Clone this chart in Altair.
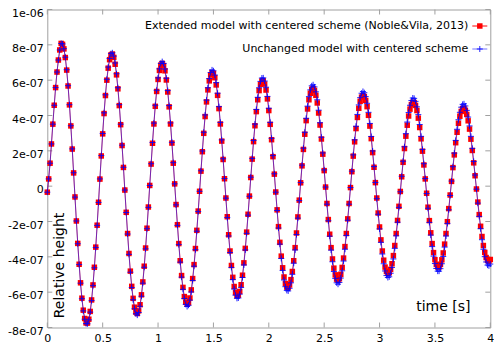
import altair as alt
import pandas as pd

# ---- data ----
t_start = 0.0
t_step = 0.0125          # sampling interval of both series (s)
value_unit = 1e-9        # the series below are given in units of 1e-9

extended_e9 = [
    -34, 41, 130, 239, 351, 458, 558, 646, 714, 771, 808,
    803, 777, 728, 657, 567, 460, 341, 210, 75, -61,
    -197, -324, -442, -547, -634, -702, -749, -774, -775, -753,
    -709, -644, -559, -459, -345, -221, -91, 40, 171, 296,
    411, 513, 600, 668, 716, 743, 748, 729, 690, 630,
    551, 456, 348, 230, 106, -22, -148, -268, -381, -481,
    -567, -635, -685, -713, -721, -706, -671, -615, -542, -453,
    -350, -238, -118, 4, 125, 243, 352, 452, 536, 604,
    655, 685, 695, 683, 653, 601, 533, 449, 352, 244,
    130, 13, -104, -218, -325, -422, -506, -573, -625, -656,
    -668, -660, -633, -587, -523, -444, -353, -250, -141, -29,
    85, 195, 299, 394, 477, 545, 596, 629, 643, 638,
    614, 573, 514, 439, 352, 255, 151, 42, -67, -173,
    -275, -367, -449, -516, -568, -602, -619, -617, -596, -558,
    -504, -434, -352, -260, -159, -56, 49, 153, 252, 342,
    422, 489, 541, 576, 595, 596, 578, 544, 494, 428,
    350, 263, 167, 68, -33, -134, -229, -318, -396, -462,
    -514, -551, -571, -574, -559, -529, -483, -422, -348, -265,
    -174, -79, 19, 115, 208, 294, 371, 437, 489, 526,
    548, 553, 542, 514, 471, 414, 346, 267, 181, 88,
    -5, -98, -189, -272, -348, -412, -464, -502, -526, -533,
    -524, -499, -460, -407, -342, -268, -185, -98, -8, 82,
    170, 251, 326, 389, 441, 480, 504, 513, 507, 485,
    450, 401, 340, 269, 190, 107, 20, -67, -152, -231,
    -304, -367, -419, -458, -483, -494, -490, -471, -439, -393,
    -336, -268, -194, -114, -30, 53, 135, 213, 283, 345,
    397, 436, 462, 475, 473, 457, 428, 385, 332, 268,
    198, 120, 41, -40, -119, -195, -264, -325, -376, -416,
    -443, -457, -457, -443, -417, -378, -328, -268, -201, -127,
    -50, 27, 105, 177, 246, 305, 356, 396, 423, 439,
    441, 429, 406, 370, 323, 266, 202, 132, 59, -16,
    -90, -161, -227, -285, -336, -375, -404, -420, -424, -415,
]

unchanged_e9 = [
    -34, 41, 130, 239, 351, 458, 558, 646, 714, 771, 808,
    805, 778, 730, 659, 569, 461, 342, 211, 76, -62,
    -197, -326, -444, -549, -637, -706, -753, -778, -779, -757,
    -713, -648, -563, -462, -347, -222, -92, 41, 173, 298,
    415, 517, 605, 674, 723, 750, 755, 736, 697, 636,
    557, 461, 351, 232, 107, -22, -149, -271, -386, -487,
    -574, -643, -694, -722, -730, -715, -680, -623, -549, -459,
    -355, -241, -120, 4, 127, 247, 357, 458, 543, 613,
    664, 695, 705, 694, 663, 611, 541, 456, 358, 248,
    133, 13, -106, -222, -331, -430, -515, -584, -636, -669,
    -681, -674, -645, -599, -534, -453, -360, -255, -144, -29,
    87, 199, 305, 403, 487, 557, 609, 643, 658, 653,
    629, 586, 526, 450, 361, 262, 155, 43, -68, -178,
    -282, -376, -460, -529, -582, -617, -635, -633, -611, -573,
    -517, -446, -361, -267, -164, -57, 51, 157, 259, 351,
    434, 503, 557, 593, 612, 613, 595, 560, 508, 441,
    361, 271, 173, 70, -34, -138, -237, -328, -409, -477,
    -531, -569, -590, -593, -578, -547, -499, -436, -361, -274,
    -181, -82, 20, 119, 215, 305, 384, 453, 507, 545,
    568, 574, 562, 534, 489, 430, 359, 277, 188, 92,
    -5, -102, -196, -283, -362, -428, -483, -522, -547, -555,
    -545, -520, -479, -424, -357, -279, -193, -102, -8, 85,
    177, 262, 339, 406, 460, 501, 526, 536, 529, 507,
    469, 418, 355, 281, 199, 111, 21, -71, -159, -242,
    -318, -384, -439, -480, -506, -517, -513, -493, -460, -412,
    -352, -281, -204, -120, -32, 56, 141, 223, 297, 363,
    417, 458, 485, 499, 497, 480, 449, 405, 349, 282,
    208, 127, 43, -42, -125, -205, -277, -342, -396, -438,
    -466, -481, -481, -467, -439, -398, -345, -282, -211, -134,
    -53, 29, 110, 187, 259, 322, 376, 418, 447, 463,
    466, 454, 429, 391, 341, 282, 214, 140, 63, -17,
    -96, -171, -241, -303, -357, -399, -429, -447, -451, -441,
]

x_ticks = [0, 0.5, 1, 1.5, 2, 2.5, 3, 3.5, 4]
y_ticks = [-8e-07, -6e-07, -4e-07, -2e-07, 0.0, 2e-07, 4e-07, 6e-07, 8e-07, 1e-06]
y_tick_labels = ["-8e-07", "-6e-07", "-4e-07", "-2e-07", "0",
                 "2e-07", "4e-07", "6e-07", "8e-07", "1e-06"]

red_label = "Extended model with centered scheme (Noble&Vila, 2013)"
blue_label = "Unchanged model with centered scheme"
x_title = "time [s]"
y_title = "Relative height"

# ---- tables ----
df = pd.DataFrame({
    "time": [t_start + i * t_step for i in range(len(extended_e9))],
    "extended": [v * value_unit for v in extended_e9],
    "unchanged": [v * value_unit for v in unchanged_e9],
})
xt = pd.DataFrame({"v": x_ticks})
yt = pd.DataFrame({"v": y_ticks})

W, H = 443, 318
PAD = {"left": 39.3, "top": 1.5, "right": 3.7, "bottom": 16}
FONT = "DejaVu Sans"
FRAME = "#a0a0a0"
TICK = 5

label_array = "[" + ",".join("'%s'" % s for s in y_tick_labels) + "]"
step = y_ticks[1] - y_ticks[0]
y_label_expr = "%s[round((datum.value - (%r)) / %r)]" % (label_array, y_ticks[0], step)

xscale = alt.Scale(domain=[x_ticks[0], x_ticks[-1]], nice=False, zero=False)
yscale = alt.Scale(domain=[y_ticks[0], y_ticks[-1]], nice=False, zero=False)

xaxis = alt.Axis(values=x_ticks, format="~g", title=None, ticks=False, domain=False,
                 grid=False, labelFont=FONT, labelFontSize=11, labelColor="black",
                 labelPadding=5, labelFlush=False, labelOverlap=False)
yaxis = alt.Axis(values=y_ticks, labelExpr=y_label_expr, title=None, ticks=False,
                 domain=False, grid=False, labelFont=FONT, labelFontSize=11,
                 labelColor="black", labelPadding=4, labelOffset=3.5,
                 labelFlush=False, labelOverlap=False)

X = lambda f: alt.X(f, scale=xscale, axis=xaxis)
Y = lambda f: alt.Y(f, scale=yscale, axis=yaxis)

base = alt.Chart(df)

red_line = base.mark_line(color="#ff0000", strokeWidth=1, opacity=0.7).encode(
    x=X("time:Q"), y=Y("extended:Q"))
red_pts = base.mark_point(shape="square", filled=True, size=30, color="#ff0000",
                          opacity=1).encode(x=X("time:Q"), y=Y("extended:Q"))
blue_line = base.mark_line(color="#0000ff", strokeWidth=1, opacity=0.55).encode(
    x=X("time:Q"), y=Y("unchanged:Q"))
blue_pts = base.mark_point(shape="M-1,0L1,0M0,-1L0,1", filled=False, size=36,
                           color="#0000ff", strokeWidth=1, opacity=0.85).encode(
    x=X("time:Q"), y=Y("unchanged:Q"))

# inward ticks on all four sides
xt_bottom = alt.Chart(xt).mark_rule(color=FRAME, strokeWidth=1).encode(
    x=X("v:Q"), y=alt.value(H - TICK), y2=alt.value(H))
xt_top = alt.Chart(xt).mark_rule(color=FRAME, strokeWidth=1).encode(
    x=X("v:Q"), y=alt.value(0), y2=alt.value(TICK))
yt_left = alt.Chart(yt).mark_rule(color=FRAME, strokeWidth=1).encode(
    y=Y("v:Q"), x=alt.value(0), x2=alt.value(TICK))
yt_right = alt.Chart(yt).mark_rule(color=FRAME, strokeWidth=1).encode(
    y=Y("v:Q"), x=alt.value(W - TICK), x2=alt.value(W))

# axis titles drawn inside the plot
ytitle = alt.Chart(pd.DataFrame({"s": [y_title]})).mark_text(
    font=FONT, fontSize=14, angle=270, align="center", baseline="middle",
    color="black").encode(text="s:N", x=alt.value(12.7), y=alt.value(256))
xtitle = alt.Chart(pd.DataFrame({"s": [x_title]})).mark_text(
    font=FONT, fontSize=14, align="center", baseline="middle",
    color="black").encode(text="s:N", x=alt.value(396), y=alt.value(297.2))

# legend
LX, L1, L2 = 421, 16.5, 39.5
SX1, SX2 = 425, 440
SXM = (SX1 + SX2) / 2
leg_red_text = alt.Chart(pd.DataFrame({"s": [red_label]})).mark_text(
    font=FONT, fontSize=11, align="right", baseline="middle", color="black").encode(
    text="s:N", x=alt.value(LX), y=alt.value(L1))
leg_blue_text = alt.Chart(pd.DataFrame({"s": [blue_label]})).mark_text(
    font=FONT, fontSize=11, align="right", baseline="middle", color="black").encode(
    text="s:N", x=alt.value(LX), y=alt.value(L2))
one = pd.DataFrame({"k": [0]})
leg_red_line = alt.Chart(one).mark_rule(color="#ff0000", strokeWidth=1).encode(
    x=alt.value(SX1), x2=alt.value(SX2), y=alt.value(L1))
leg_red_pt = alt.Chart(one).mark_point(shape="square", filled=True, size=30,
                                       color="#ff0000", opacity=1).encode(
    x=alt.value(SXM), y=alt.value(L1))
leg_blue_line = alt.Chart(one).mark_rule(color="#0000ff", strokeWidth=1, opacity=0.55).encode(
    x=alt.value(SX1), x2=alt.value(SX2), y=alt.value(L2))
leg_blue_pt = alt.Chart(one).mark_point(shape="M-1,0L1,0M0,-1L0,1", filled=False, size=36,
                                        color="#0000ff", strokeWidth=1, opacity=0.85).encode(
    x=alt.value(SXM), y=alt.value(L2))

chart = alt.layer(
    xt_bottom, xt_top, yt_left, yt_right,
    red_line, red_pts, blue_line, blue_pts,
    ytitle, xtitle,
    leg_red_text, leg_blue_text, leg_red_line, leg_red_pt, leg_blue_line, leg_blue_pt,
).properties(
    width=W, height=H,
    autosize=alt.AutoSizeParams(type="none"),
    padding=PAD,
    background="white",
).configure_view(stroke=FRAME, strokeWidth=1)

chart.save("out.html", embed_options={"renderer": "svg", "actions": False})
